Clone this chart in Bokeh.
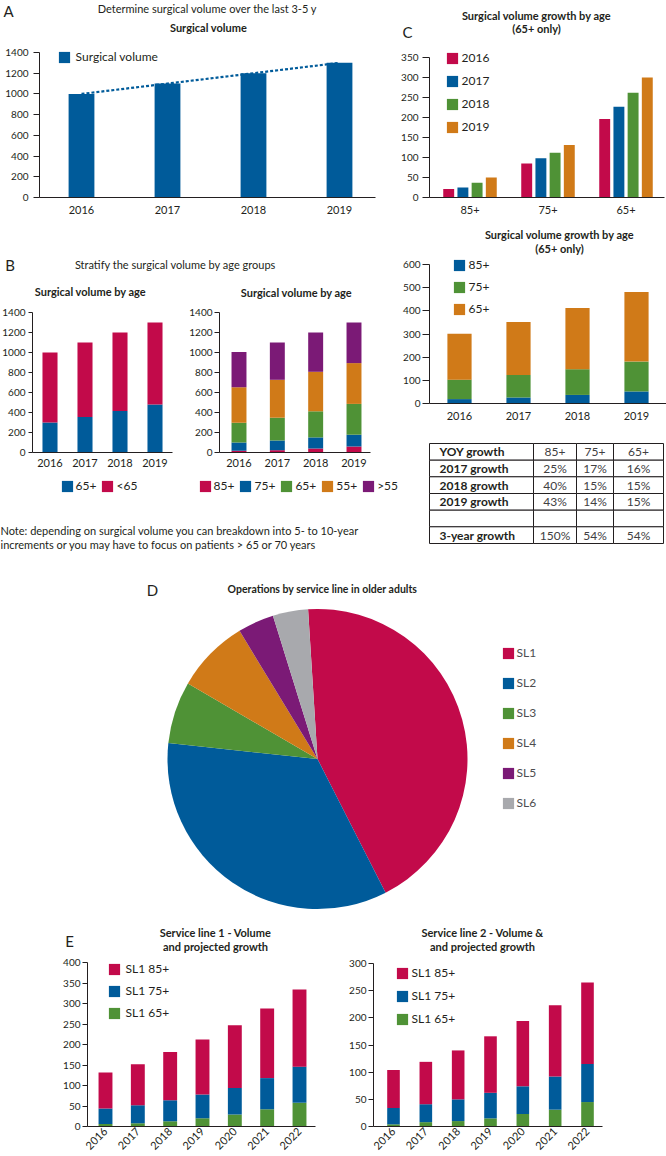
import math
from bokeh.plotting import figure
from bokeh.models import (Range1d, FixedTicker, Label, Legend, LegendItem,
                          LinearAxis, ColumnDataSource)
from bokeh.transform import dodge
from bokeh.core.properties import value
from bokeh.embed import file_html
from bokeh.resources import INLINE

# ----------------------------- data -----------------------------
years = ["2016", "2017", "2018", "2019"]
surgical_volume = [1000, 1100, 1200, 1300]

age2_labels = ["65+", "<65"]
vol_65plus = [300, 355, 415, 480]
vol_under65 = [700, 745, 785, 820]

age5_labels = ["85+", "75+", "65+", "55+", ">55"]
vol5_85 = [17, 23, 40, 60]
vol5_75 = [83, 97, 111, 118]
vol5_65 = [198, 228, 261, 308]
vol5_55 = [355, 379, 395, 408]
vol5_gt55 = [352, 373, 393, 406]

old_groups = ["85+", "75+", "65+"]
growth_2016 = [21, 85, 196]
growth_2017 = [25, 98, 227]
growth_2018 = [37, 112, 262]
growth_2019 = [50, 131, 300]

stack_labels = ["85+", "75+", "65+"]
stack_85 = [19, 26, 37, 52]
stack_75 = [84, 97, 111, 129]
stack_65 = [198, 229, 264, 300]

yoy_header = ["YOY growth", "85+", "75+", "65+"]
yoy_rows = ["2017 growth", "2018 growth", "2019 growth", "", "3-year growth"]
yoy_85 = ["25%", "40%", "43%", "", "150%"]
yoy_75 = ["17%", "15%", "14%", "", "54%"]
yoy_65 = ["16%", "15%", "15%", "", "54%"]

service_lines = ["SL1", "SL2", "SL3", "SL4", "SL5", "SL6"]
service_share = [43.5, 34.2, 6.7, 7.9, 3.9, 3.8]

proj_years = ["2016", "2017", "2018", "2019", "2020", "2021", "2022"]
sl_labels = ["SL1 85+", "SL1 75+", "SL1 65+"]
sl1_65 = [6, 8, 13, 20, 29, 42, 58]
sl1_75 = [38, 44, 51, 58, 65, 76, 88]
sl1_85 = [88, 100, 118, 134, 153, 170, 188]
sl2_65 = [4, 8, 10, 15, 23, 31, 45]
sl2_75 = [30, 33, 40, 47, 51, 61, 70]
sl2_85 = [70, 78, 90, 104, 120, 131, 150]

# ----------------------------- style -----------------------------
BLUE = "#005b9a"
RED = "#c20a4a"
GREEN = "#4f9236"
ORANGE = "#d07a18"
PURPLE = "#7b1a76"
GRAY = "#a8a9ad"
DARK = "#231f20"
MID = "#414042"
FONT = "Lato"

W, H = 666, 1156

# One canvas; its default ranges are page pixels (y measured downward as -y).
p = figure(width=W, height=H, x_range=Range1d(0, W), y_range=Range1d(-H, 0),
           min_border_left=0, min_border_right=0, min_border_top=0, min_border_bottom=0,
           toolbar_location=None, output_backend="svg",
           x_axis_location=None, y_axis_location=None, outline_line_color=None)
p.xgrid.visible = False
p.ygrid.visible = False


def lab(rx, ry, text, size="11px", bold=False, align="center", color=DARK):
    p.add_layout(Label(x=rx, y=-ry, text=text, text_font=FONT, text_font_size=size,
                       text_font_style="bold" if bold else "normal",
                       text_align=align, text_baseline="middle", text_color=color))


class Chart:
    """A chart region with its own scales: value v0 at pixel p0, v1 at p1 (x and y)."""

    def __init__(self, name, xa, ya):
        v0, p0, v1, p1 = xa
        self.v0, self.p0, self.kx = v0, p0, (v1 - v0) / (p1 - p0)
        u0, q0, u1, q1 = ya
        self.u0, self.q0, self.ky = u0, q0, (u1 - u0) / (q1 - q0)
        self.xn, self.yn = name + "_x", name + "_y"
        p.extra_x_ranges = {**p.extra_x_ranges, self.xn: Range1d(self.xv(0), self.xv(W))}
        p.extra_y_ranges = {**p.extra_y_ranges, self.yn: Range1d(self.yv(H), self.yv(0))}

    def xv(self, px):
        return self.v0 + (px - self.p0) * self.kx

    def yv(self, py):
        return self.u0 + (py - self.q0) * self.ky

    def kw(self):
        return dict(x_range_name=self.xn, y_range_name=self.yn)

    def axes(self, yticks, xlabels, axis_px, end_px, ytick_out=6, ystand=4, xstand=8, xangle=None):
        ya = LinearAxis(ticker=FixedTicker(ticks=yticks), fixed_location=self.xv(axis_px),
                        bounds=(0, yticks[-1]), **self.kw())
        ya.axis_line_color = DARK
        ya.major_tick_line_color = DARK
        ya.major_tick_out = ytick_out
        ya.major_tick_in = 0
        ya.minor_tick_line_color = None
        ya.major_label_standoff = ystand
        ya.major_label_text_font = FONT
        ya.major_label_text_font_size = "10px"
        ya.major_label_text_color = DARK
        p.add_layout(ya, "left")
        xa = LinearAxis(ticker=FixedTicker(ticks=list(range(len(xlabels)))),
                        major_label_overrides={i: s for i, s in enumerate(xlabels)},
                        fixed_location=0, bounds=(self.xv(axis_px), self.xv(end_px)), **self.kw())
        xa.axis_line_color = DARK
        xa.major_tick_line_color = None
        xa.major_tick_out = 0
        xa.major_tick_in = 0
        xa.minor_tick_line_color = None
        xa.major_label_standoff = xstand
        xa.major_label_text_font = FONT
        xa.major_label_text_font_size = "11px"
        xa.major_label_text_color = DARK
        if xangle:
            xa.major_label_orientation = xangle
        p.add_layout(xa, "below")


def add_legend(entries, sq_left, first_cy, pitch=20, standoff=4, orientation="vertical",
               spacing_h=5, size="12px", color=DARK):
    G = 14
    items = [LegendItem(label=t, renderers=[r], index=idx) for t, r, idx in entries]
    n = len(items)
    top = first_cy - G / 2
    if orientation == "vertical":
        spacing = int(round(pitch - G))
        height = n * G + (n - 1) * spacing
    else:
        spacing = spacing_h
        height = G
    x = sq_left - 0.1 * G
    y = H - (top + height)
    leg = Legend(items=items, location=(x, y), orientation=orientation,
                 glyph_width=G, glyph_height=G, label_height=G, label_width=0,
                 label_standoff=standoff, spacing=spacing, padding=0, margin=0,
                 border_line_color=None, background_fill_alpha=0,
                 label_text_font=FONT, label_text_font_size=size, label_text_color=color)
    p.add_layout(leg, "center")


# ----------------------------- A -----------------------------
A = Chart("A", (0, 81, 3, 339), (0, 197, 1400, 52))
srcA = ColumnDataSource(dict(x=list(range(len(years))), v=surgical_volume))
rA = p.vbar(x="x", top="v", width=0.30, source=srcA, fill_color=BLUE, line_color=None, **A.kw())
p.line(x="x", y="v", source=srcA, line_color=BLUE, line_width=2.2, line_dash="3 2", **A.kw())
A.axes(list(range(0, 1401, 200)), years, 39, 375, ytick_out=6, ystand=5, xstand=8)
add_legend([("Surgical volume", rA, None)], sq_left=58, first_cy=57, standoff=5)
lab(8, 10, "A", size="15px")
lab(207, 8, "Determine surgical volume over the last 3-5 y")
lab(208, 27, "Surgical volume", bold=True)

# ----------------------------- C top -----------------------------
C1 = Chart("C1", (0, 469.5, 2, 625.5), (0, 197, 350, 57))
offsets = [-0.273, -0.091, 0.091, 0.273]
c1_r = []
for j, (vals, col) in enumerate(zip([growth_2016, growth_2017, growth_2018, growth_2019],
                                    [RED, BLUE, GREEN, ORANGE])):
    src = ColumnDataSource(dict(x=list(range(len(old_groups))), v=vals))
    c1_r.append(p.vbar(x=dodge("x", offsets[j]), top="v", width=0.14, source=src,
                       fill_color=col, line_color=None, **C1.kw()))
C1.axes(list(range(0, 351, 50)), old_groups, 429, 664, ytick_out=7, ystand=4, xstand=8)
add_legend([(y, r, None) for y, r in zip(years, c1_r)], sq_left=446, first_cy=61, pitch=22, standoff=3)
lab(407, 31, "C", size="15px")
lab(536, 15, "Surgical volume growth by age", bold=True)
lab(536, 28, "(65+ only)", bold=True)

# ----------------------------- B -----------------------------
lab(9.5, 264, "B", size="15px")
lab(175, 264, "Stratify the surgical volume by age groups")
lab(90, 291, "Surgical volume by age", bold=True)
lab(296, 292, "Surgical volume by age", bold=True)

BL = Chart("BL", (0, 49.5, 3, 154.5), (0, 452, 1400, 312))
srcBL = ColumnDataSource(dict(x=list(range(len(years))), a=vol_65plus, b=vol_under65))
rBL = p.vbar_stack(["a", "b"], x="x", width=0.43, source=srcBL,
                   fill_color=[BLUE, RED], line_color=None, **BL.kw())
BL.axes(list(range(0, 1401, 200)), years, 32, 172, ytick_out=4, ystand=3, xstand=6)
add_legend([(age2_labels[0], rBL[0], None), (age2_labels[1], rBL[1], None)],
           sq_left=61, first_cy=486, orientation="horizontal", standoff=2, spacing_h=4)

BR = Chart("BR", (0, 238.5, 3, 353.5), (0, 452, 1400, 312))
srcBR = ColumnDataSource(dict(x=list(range(len(years))), a=vol5_85, b=vol5_75, c=vol5_65,
                              d=vol5_55, e=vol5_gt55))
rBR = p.vbar_stack(["a", "b", "c", "d", "e"], x="x", width=0.39, source=srcBR,
                   fill_color=[RED, BLUE, GREEN, ORANGE, PURPLE], line_color=None, **BR.kw())
BR.axes(list(range(0, 1401, 200)), years, 219, 370, ytick_out=5, ystand=2, xstand=6)
add_legend([(t, r, None) for t, r in zip(age5_labels, rBR)],
           sq_left=199, first_cy=486, orientation="horizontal", standoff=2, spacing_h=4)

lab(0, 530, "Note: depending on surgical volume you can breakdown into 5- to 10-year", align="left")
lab(0, 544, "increments or you may have to focus on patients > 65 or 70 years", align="left")

# ----------------------------- C low -----------------------------
C2 = Chart("C2", (0, 459, 3, 636), (0, 403, 600, 264))
srcC2 = ColumnDataSource(dict(x=list(range(len(years))), a=stack_85, b=stack_75, c=stack_65))
rC2 = p.vbar_stack(["a", "b", "c"], x="x", width=0.41, source=srcC2,
                   fill_color=[BLUE, GREEN, ORANGE], line_color=None, **C2.kw())
C2.axes(list(range(0, 601, 100)), years, 429, 666, ytick_out=7, ystand=2, xstand=8)
add_legend([(t, r, None) for t, r in zip(stack_labels, rC2)], sq_left=453, first_cy=267,
           pitch=21, standoff=3)
lab(559, 234, "Surgical volume growth by age", bold=True)
lab(559, 248, "(65+ only)", bold=True)

# ----------------------------- table -----------------------------
col_edges = [429, 533, 576, 613, 663]
row_edges = [443, 459.7, 476.3, 493, 509.7, 526.3, 543]
table = [yoy_header] + [[r, a, b, c] for r, a, b, c in zip(yoy_rows, yoy_85, yoy_75, yoy_65)]
cells = dict(l=[], r=[], t=[], b=[])
bold_txt = dict(x=[], y=[], s=[])
norm_txt = dict(x=[], y=[], s=[])
for ri, rowvals in enumerate(table):
    for ci, s in enumerate(rowvals):
        cells["l"].append(col_edges[ci])
        cells["r"].append(col_edges[ci + 1])
        cells["t"].append(-row_edges[ri])
        cells["b"].append(-row_edges[ri + 1])
        cy = -(row_edges[ri] + row_edges[ri + 1]) / 2
        if ci == 0:
            bold_txt["x"].append(col_edges[0] + 10)
            bold_txt["y"].append(cy)
            bold_txt["s"].append(s)
        else:
            norm_txt["x"].append((col_edges[ci] + col_edges[ci + 1]) / 2)
            norm_txt["y"].append(cy)
            norm_txt["s"].append(s)
p.quad(left="l", right="r", top="t", bottom="b", source=ColumnDataSource(cells),
       fill_color="white", line_color=DARK, line_width=1)
p.text(x="x", y="y", text="s", source=ColumnDataSource(bold_txt), text_font=value(FONT),
       text_font_size="12px", text_font_style="bold", text_align="left",
       text_baseline="middle", text_color=DARK)
p.text(x="x", y="y", text="s", source=ColumnDataSource(norm_txt), text_font=value(FONT),
       text_font_size="12px", text_align="center", text_baseline="middle", text_color=MID)

# ----------------------------- D pie -----------------------------
total = sum(service_share)
start0 = math.radians(93.6)
cum = 0.0
s_ang, e_ang = [], []
for v in service_share:
    a0 = start0 - 2 * math.pi * cum / total
    cum += v
    a1 = start0 - 2 * math.pi * cum / total
    s_ang.append(a1)
    e_ang.append(a0)
n_sl = len(service_lines)
srcD = ColumnDataSource(dict(x=[317] * n_sl, y=[-758.5] * n_sl, s=s_ang, e=e_ang,
                             c=[RED, BLUE, GREEN, ORANGE, PURPLE, GRAY]))
rD = p.wedge(x="x", y="y", radius=150, start_angle="s", end_angle="e",
             fill_color="c", line_color=None, source=srcD)
add_legend([(sl, rD, i) for i, sl in enumerate(service_lines)], sq_left=502, first_cy=658,
           pitch=29.4, standoff=2, color="#4d4d4f")
lab(152, 589, "D", size="15px")
lab(322, 588, "Operations by service line in older adults", size="10.5px", bold=True)

# ----------------------------- E -----------------------------
E1 = Chart("E1", (0, 105, 6, 299), (0, 1126, 400, 962))
srcE1 = ColumnDataSource(dict(x=list(range(len(proj_years))), g=sl1_65, b=sl1_75, r=sl1_85))
rE1 = p.vbar_stack(["g", "b", "r"], x="x", width=0.43, source=srcE1,
                   fill_color=[GREEN, BLUE, RED], line_color=None, **E1.kw())
E1.axes(list(range(0, 401, 50)), proj_years, 87, 315, ytick_out=5, ystand=2, xstand=3,
        xangle=math.pi / 4)
add_legend([(sl_labels[0], rE1[2], None), (sl_labels[1], rE1[1], None), (sl_labels[2], rE1[0], None)],
           sq_left=108, first_cy=971, pitch=21, standoff=5)
lab(69, 940, "E", size="15px")
lab(215, 932, "Service line 1 - Volume", bold=True)
lab(215, 946, "and projected growth", bold=True)

E2 = Chart("E2", (0, 393, 6, 587), (0, 1126, 300, 963))
srcE2 = ColumnDataSource(dict(x=list(range(len(proj_years))), g=sl2_65, b=sl2_75, r=sl2_85))
rE2 = p.vbar_stack(["g", "b", "r"], x="x", width=0.39, source=srcE2,
                   fill_color=[GREEN, BLUE, RED], line_color=None, **E2.kw())
E2.axes(list(range(0, 301, 50)), proj_years, 373, 602, ytick_out=5, ystand=2, xstand=3,
        xangle=math.pi / 4)
add_legend([(sl_labels[0], rE2[2], None), (sl_labels[1], rE2[1], None), (sl_labels[2], rE2[0], None)],
           sq_left=396, first_cy=975, pitch=21.5, standoff=3)
lab(482, 932, "Service line 2 - Volume &", bold=True)
lab(482, 946, "and projected growth", bold=True)

open("out.html", "w").write(file_html(p, INLINE, "Surgical volume"))
